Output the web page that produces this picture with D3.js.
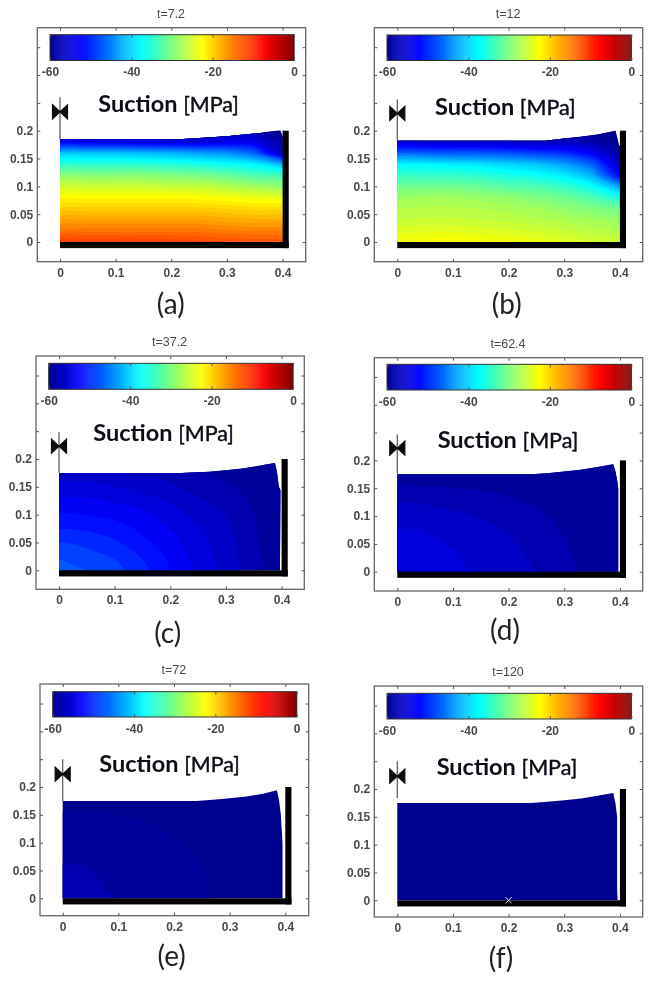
<!DOCTYPE html>
<html lang="en">
<head>
    <meta charset="UTF-8">
    <title>Suction fields</title>
    <style>
        body {
            margin: 0;
            background: white;
            overflow: hidden;
        }
        .axis text {
            font-family: "Liberation Sans", sans-serif;
            font-size: 12px;
            font-weight: bold;
            fill: #4a4a4a;
        }
        .axis line {
            stroke: #555;
        }
        .axis path {
            display: none;
        }
    </style>
</head>
<body>
    <svg id="chart" width="656" height="988"></svg>

    <script src="https://d3js.org/d3.v7.min.js"></script>
    <script>
        // Grid the fields are read on
        const gridX = [0, 0.05, 0.1, 0.15, 0.2, 0.25, 0.3, 0.35, 0.4];
        const gridY = [0.2, 0.18, 0.16, 0.14, 0.12, 0.1, 0.08, 0.06, 0.04, 0.02, 0]; // top row first

        // Suction [MPa], one row per gridY, one column per gridX
        const fieldA = [
            [-60, -60, -60, -60, -60, -60, -58, -58, -60],
            [-54, -54, -54, -54.5, -55, -55, -54, -54, -59],
            [-41, -41, -41, -41.5, -42, -43, -44, -47, -57],
            [-35, -35, -35, -35, -35.5, -36, -37, -38, -42],
            [-29.5, -29.5, -29.5, -29.5, -30, -30.5, -31.5, -33, -34],
            [-25.5, -25.5, -25.5, -25.5, -26, -26, -27, -28, -29],
            [-22.3, -22.3, -22.3, -22.3, -22.3, -22.5, -23, -23.5, -24],
            [-19.7, -19.7, -19.7, -19.7, -19.7, -19.7, -20, -20.5, -20.5],
            [-17, -17, -17, -17, -17, -17, -17.5, -17.8, -17.8],
            [-14.3, -14.3, -14.3, -14.3, -14.3, -14.3, -14.8, -15, -15.2],
            [-11, -11, -11, -11, -11.2, -11.5, -12, -12.2, -12.5]
        ];
        const fieldB = [
            [-60, -60, -60, -60, -60, -60, -60, -60, -60],
            [-56, -56, -56, -56, -56.5, -57, -57, -58, -60],
            [-47, -47, -47.5, -47.5, -48, -49, -50, -53, -59],
            [-38, -38, -38.5, -39, -40, -41, -43, -47, -56],
            [-34.5, -34.5, -34.5, -35, -36, -37, -38.5, -42, -53],
            [-31, -31, -31, -31.5, -32.5, -33, -34.5, -37, -43],
            [-28.5, -28, -28, -28.5, -29, -30, -31, -33, -36],
            [-27, -26.8, -26.8, -27, -27.5, -28, -29, -30, -31],
            [-26, -25.8, -25.8, -26, -26.3, -26.8, -27.3, -28, -28.5],
            [-24.5, -24.2, -24.2, -24.5, -24.8, -25.2, -25.8, -26.5, -27],
            [-23, -22.6, -22.4, -22.5, -22.9, -23.4, -24.2, -25, -25.5]
        ];
        const fieldC = [
            [-57, -57, -57.5, -58, -58.5, -59, -59.5, -60, -60],
            [-56.5, -56.5, -57, -57.5, -58, -58.5, -59, -59.5, -60],
            [-55.5, -55.5, -56, -56.5, -57, -58, -58.5, -59.3, -60],
            [-54.5, -54.5, -55, -55.5, -56.3, -57.3, -58, -59, -60],
            [-53.5, -53.5, -54, -54.5, -55.5, -56.5, -57.5, -58.7, -60],
            [-52.3, -52.5, -53, -53.5, -54.8, -56, -57, -58.5, -60],
            [-51.5, -51.5, -52, -53, -54.2, -55.5, -56.7, -58.3, -60],
            [-50, -50.4, -51.2, -52.4, -53.7, -55, -56.5, -58.2, -60],
            [-49, -49.5, -50.3, -51.7, -53.2, -54.8, -56.3, -58, -60],
            [-48, -48.6, -49.5, -51, -52.8, -54.6, -56.2, -58, -60],
            [-47.3, -48, -49, -50.5, -52.5, -54.3, -56, -58, -60]
        ];
        const fieldD = [
            [-60, -60, -60, -60, -60, -60, -60, -60, -60],
            [-59.4, -59.4, -59.5, -59.6, -59.7, -59.8, -59.8, -60, -60],
            [-58.7, -58.8, -58.9, -59, -59.2, -59.4, -59.6, -59.8, -60],
            [-57.6, -57.8, -58, -58.3, -58.6, -59, -59.3, -59.7, -60],
            [-56.8, -57, -57.3, -57.7, -58.1, -58.6, -59.1, -59.6, -60],
            [-56.1, -56.3, -56.7, -57.1, -57.6, -58.2, -58.9, -59.5, -60],
            [-55.5, -55.7, -56.2, -56.7, -57.2, -57.9, -58.7, -59.4, -60],
            [-55.1, -55.3, -55.8, -56.4, -56.9, -57.6, -58.5, -59.3, -60],
            [-54.8, -55, -55.5, -56.1, -56.7, -57.4, -58.3, -59.2, -60],
            [-54.6, -54.8, -55.3, -55.9, -56.5, -57.2, -58.2, -59.1, -60],
            [-54.5, -54.7, -55.2, -55.8, -56.4, -57.1, -58.1, -59.1, -60]
        ];
        const fieldE = [
            [-60.8, -60.8, -60.8, -60.9, -60.9, -61, -61, -61, -61],
            [-60.4, -60.4, -60.4, -60.5, -60.6, -60.8, -61, -61, -61],
            [-60.05, -60.1, -60.1, -60.2, -60.3, -60.6, -60.9, -61, -61],
            [-59.8, -59.8, -59.9, -60, -60.2, -60.5, -60.8, -61, -61],
            [-59.6, -59.6, -59.7, -59.8, -60.1, -60.3, -60.7, -61, -61],
            [-59.3, -59.4, -59.5, -59.6, -59.95, -60.2, -60.6, -61, -61],
            [-58.8, -59, -59.3, -59.5, -59.85, -60.1, -60.5, -60.9, -61],
            [-58.45, -58.55, -59.1, -59.3, -59.75, -60, -60.5, -60.9, -61],
            [-58.3, -58.4, -58.9, -59.2, -59.7, -59.95, -60.4, -60.8, -61],
            [-58.1, -58.3, -58.7, -59.1, -59.65, -59.9, -60.4, -60.8, -61],
            [-58, -58.2, -58.55, -59, -59.6, -59.85, -60.3, -60.8, -61]
        ];
        const fieldF = gridY.map(() => gridX.map(() => -60.5));
        const fields = [fieldA, fieldB, fieldC, fieldD, fieldE, fieldF];

        // Deformed top surface and right side of the sample
        const outlineX = [
            [0, 0.22, 0.25, 0.3, 0.33, 0.36, 0.39, 0.396, 0.4, 0.4],
            [0, 0.265, 0.3, 0.33, 0.36, 0.392, 0.398, 0.4, 0.4],
            [0, 0.22, 0.27, 0.3, 0.33, 0.36, 0.388, 0.392, 0.395, 0.398, 0.397],
            [0, 0.24, 0.27, 0.3, 0.33, 0.36, 0.388, 0.392, 0.395, 0.397, 0.397],
            [0, 0.24, 0.27, 0.3, 0.33, 0.36, 0.385, 0.389, 0.392, 0.395, 0.395],
            [0, 0.24, 0.27, 0.3, 0.33, 0.36, 0.388, 0.392, 0.395, 0.395, 0.396]
        ];
        const outlineY = [
            [0.185, 0.185, 0.187, 0.19, 0.193, 0.196, 0.2, 0.2, 0.19, 0],
            [0.182, 0.182, 0.186, 0.189, 0.193, 0.2, 0.175, 0.172, 0],
            [0.175, 0.175, 0.177, 0.18, 0.183, 0.188, 0.193, 0.175, 0.15, 0.144, 0],
            [0.175, 0.175, 0.177, 0.18, 0.183, 0.188, 0.193, 0.18, 0.165, 0.15, 0],
            [0.175, 0.175, 0.177, 0.18, 0.183, 0.188, 0.194, 0.175, 0.15, 0.1, 0],
            [0.175, 0.175, 0.177, 0.18, 0.183, 0.188, 0.193, 0.175, 0.15, 0.02, 0]
        ];

        const titles = ["t=7.2", "t=12", "t=37.2", "t=62.4", "t=72", "t=120"];
        const captions = ["(a)", "(b)", "(c)", "(d)", "(e)", "(f)"];
        const xTicks = [0, 0.1, 0.2, 0.3, 0.4];
        const yTicks = [0, 0.05, 0.1, 0.15, 0.2, 0.25, 0.3, 0.35];
        const yTickLabels = ["0", "0.05", "0.1", "0.15", "0.2", "", "", ""];
        const barTicks = [-60, -40, -20, 0];
        const jetValues = [-60, -52.5, -37.5, -22.5, -7.5, 0];
        const jetColors = ["#00008f", "#0000ff", "#00ffff", "#ffff00", "#ff0000", "#800000"];
        const valveCentre = [0.234, 0.231, 0.223, 0.222, 0.223, 0.223];
        const valveTop = [0.26, 0.256, 0.248, 0.247, 0.25, 0.25];
        const valveBottom = [0.185, 0.182, 0.175, 0.175, 0.175, 0.184];

        // Pixel layout of each panel, the screenshot is not a regular grid
        const layouts = [
            { left: 37.3, right: 305.7, top: 27.7, bottom: 261.7, x0: 60, y0: 242, barL: 50, barR: 294, barT: 34.7, barB: 60.5, sx: 98.3, sy: 111.7, cx: 170.7, cy: 314, step: 1 },
            { left: 374.3, right: 642.7, top: 27.7, bottom: 261.7, x0: 397.3, y0: 242, barL: 387, barR: 631.3, barT: 35, barB: 60.5, sx: 435, sy: 115, cx: 506.7, cy: 314, step: 1 },
            { left: 36, right: 304.3, top: 356, bottom: 589.3, x0: 59, y0: 570.3, barL: 48.7, barR: 293, barT: 363.3, barB: 389.3, sx: 93.3, sy: 440.7, cx: 167.7, cy: 643, step: 1.5 },
            { left: 374.3, right: 642.7, top: 357.7, bottom: 591, x0: 397.3, y0: 571.7, barL: 387, barR: 631.3, barT: 364.3, barB: 390, sx: 437.7, sy: 448.3, cx: 505, cy: 640, step: 1.5 },
            { left: 40, right: 308.7, top: 684, bottom: 915.7, x0: 62.7, y0: 898.3, barL: 52.7, barR: 296.7, barT: 691.7, barB: 717, sx: 99.3, sy: 771.7, cx: 171.7, cy: 966, step: 1.5 },
            { left: 374.3, right: 642.7, top: 686, bottom: 917, x0: 397.3, y0: 900.3, barL: 387, barR: 631.3, barT: 693.3, barB: 719, sx: 436.7, sy: 775, cx: 501, cy: 968, step: 1.5 }
        ];

        const jet = d3.scaleLinear().domain(jetValues).range(jetColors).clamp(true);
        const barStep = 0.25;
        const unit = 556.5; // pixels per metre, both axes

        const svg = d3.select("#chart");
        const defs = svg.append("defs");
        defs.append("filter")
            .attr("id", "soft")
            .attr("x", "-5%").attr("y", "-5%").attr("width", "110%").attr("height", "110%")
            .append("feGaussianBlur")
            .attr("stdDeviation", 0.4);

        const root = svg.append("g").attr("filter", "url(#soft)");

        function drawPanel(layout, i) {
            const g = root.append("g");
            const x = d3.scaleLinear().domain([0, 0.4]).range([layout.x0, layout.x0 + 0.4 * unit]);
            const y = d3.scaleLinear().domain([0, 0.2]).range([layout.y0, layout.y0 - 0.2 * unit]);

            // Sample outline, used as base colour and as clip for the contour bands
            const outline = outlineX[i].map((d, j) => [d, outlineY[i][j]]);
            outline.push([0, 0]);
            const outlinePath = d3.line().x(d => x(d[0])).y(d => y(d[1]))(outline) + "Z";
            defs.append("clipPath").attr("id", "body" + i).append("path").attr("d", outlinePath);

            g.append("path").attr("d", outlinePath).attr("fill", jet(-60));

            // Contour bands, rows flipped so that grid index grows with y
            const flat = fields[i].slice().reverse().flat();
            const levels = d3.range(-60, 0, layout.step);
            const contours = d3.contours().size([gridX.length, gridY.length]).thresholds(levels)(flat);
            const dx = gridX[1] - gridX[0];
            const dy = gridY[0] - gridY[1];
            // d3 puts a grid value at the middle of its cell; rings are rounded to lose the grid kinks
            const ringLine = d3.line()
                .x(d => x((d[0] - 0.5) * dx))
                .y(d => y((d[1] - 0.5) * dy))
                .curve(d3.curveCatmullRomClosed.alpha(0.5));
            g.append("g")
                .attr("clip-path", "url(#body" + i + ")")
                .selectAll("path")
                .data(contours)
                .enter()
                .append("path")
                .attr("d", d => d.coordinates.flat().map(ring => ringLine(ring.slice(0, -1))).join(""))
                .attr("fill", d => jet(d.value + layout.step / 2));

            // Black floor and wall
            g.append("rect")
                .attr("x", x(0)).attr("y", y(0))
                .attr("width", x(0.411) - x(0)).attr("height", y(-0.011) - y(0))
                .attr("fill", "black");
            g.append("rect")
                .attr("x", x(0.4)).attr("y", y(0.2))
                .attr("width", x(0.411) - x(0.4)).attr("height", y(-0.011) - y(0.2))
                .attr("fill", "black");

            // Valve symbol above the left edge
            g.append("line")
                .attr("x1", x(0)).attr("x2", x(0))
                .attr("y1", y(valveTop[i])).attr("y2", y(valveBottom[i]))
                .attr("stroke", "#555").attr("stroke-width", 1.2);
            const vx = x(0), vy = y(valveCentre[i]);
            g.append("path")
                .attr("d", `M${vx - 7.5},${vy - 7}L${vx + 7.5},${vy + 7}L${vx + 7.5},${vy - 7}L${vx - 7.5},${vy + 7}Z`)
                .attr("fill", "#111")
                .attr("stroke", "#111")
                .attr("stroke-width", 1.2);

            // Frame and ticks
            g.append("rect")
                .attr("x", layout.left).attr("y", layout.top)
                .attr("width", layout.right - layout.left).attr("height", layout.bottom - layout.top)
                .attr("fill", "none").attr("stroke", "#666").attr("stroke-width", 1.3);
            g.append("g").attr("class", "axis")
                .attr("transform", `translate(0,${layout.bottom})`)
                .call(d3.axisBottom(x).tickValues(xTicks).tickSize(-3).tickPadding(6.5).tickFormat(d => d));
            g.append("g").attr("class", "axis")
                .attr("transform", `translate(0,${layout.top})`)
                .call(d3.axisTop(x).tickValues(xTicks).tickSize(-3).tickFormat(""));
            g.append("g").attr("class", "axis")
                .attr("transform", `translate(${layout.left},0)`)
                .call(d3.axisLeft(y).tickValues(yTicks).tickSize(-3).tickPadding(4)
                    .tickFormat((d, k) => yTickLabels[k]));
            g.append("g").attr("class", "axis")
                .attr("transform", `translate(${layout.right},0)`)
                .call(d3.axisRight(y).tickValues(yTicks).tickSize(-3).tickFormat(""));

            // Colour bar
            const barScale = d3.scaleLinear().domain([-60, 0]).range([layout.barL, layout.barR]);
            g.append("g")
                .selectAll("rect")
                .data(d3.range(-60, 0, barStep))
                .enter()
                .append("rect")
                .attr("x", d => barScale(d))
                .attr("y", layout.barT)
                .attr("width", barScale(barStep) - barScale(0) + 0.4)
                .attr("height", layout.barB - layout.barT)
                .attr("fill", d => jet(d + barStep / 2));
            g.append("rect")
                .attr("x", layout.barL).attr("y", layout.barT)
                .attr("width", layout.barR - layout.barL).attr("height", layout.barB - layout.barT)
                .attr("fill", "none").attr("stroke", "#333").attr("stroke-width", 1);
            g.append("g").attr("class", "axis")
                .attr("transform", `translate(0,${layout.barB})`)
                .call(d3.axisBottom(barScale).tickValues(barTicks).tickSize(-3).tickPadding(7).tickFormat(d => d));
            g.append("g").attr("class", "axis")
                .attr("transform", `translate(0,${layout.barT})`)
                .call(d3.axisTop(barScale).tickValues(barTicks).tickSize(-3).tickFormat(""));

            // Texts
            g.append("text")
                .attr("x", (layout.left + layout.right) / 2 - 0.5)
                .attr("y", layout.top - 10)
                .attr("text-anchor", "middle")
                .attr("font-family", "Liberation Sans, sans-serif")
                .attr("font-size", "12.5px")
                .attr("fill", "#4a4a4a")
                .text(titles[i]);
            const label = g.append("text")
                .attr("x", layout.sx)
                .attr("y", layout.sy)
                .attr("font-family", "Lato, sans-serif")
                .attr("fill", "#0a0a14");
            label.append("tspan").attr("font-size", "23.5px").attr("font-weight", "bold").text("Suction ");
            label.append("tspan").attr("font-size", "21.5px").attr("stroke", "#0a0a14").attr("stroke-width", 0.4).text("[MPa]");
            g.append("text")
                .attr("x", layout.cx)
                .attr("y", layout.cy)
                .attr("text-anchor", "middle")
                .attr("font-family", "Lato, sans-serif")
                .attr("font-size", "28px")
                .attr("fill", "#222")
                .text(captions[i]);

            return { g, x, y };
        }

        const panels = layouts.map(drawPanel);

        // Small cross in the last panel
        const last = panels[5];
        last.g.append("path")
            .attr("d", d3.symbol(d3.symbolX, 26)())
            .attr("transform", `translate(${last.x(0.2)},${last.y(0)})`)
            .attr("fill", "none")
            .attr("stroke", "#ddd")
            .attr("stroke-width", 1);
    </script>
</body>
</html>
